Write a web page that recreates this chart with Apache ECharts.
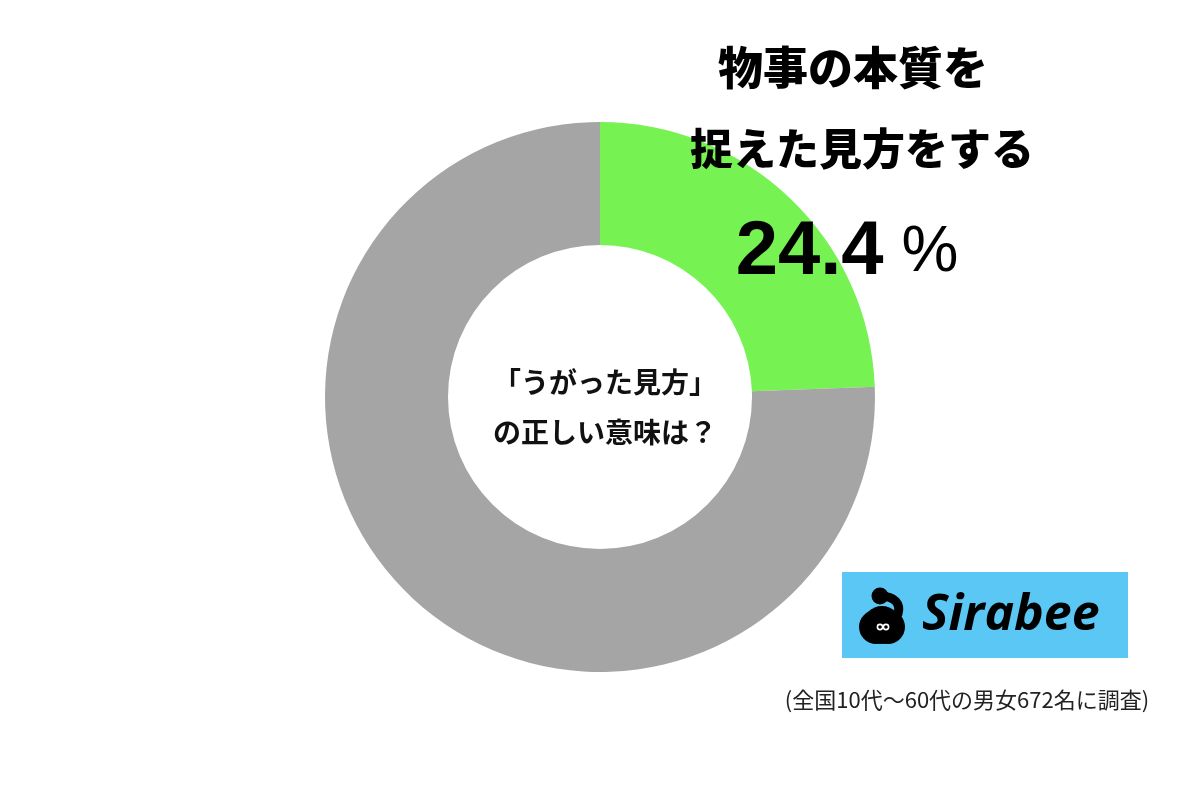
<!DOCTYPE html>
<html>
<head>
<meta charset="utf-8">
<script src="https://cdn.jsdelivr.net/npm/echarts@6/dist/echarts.min.js"></script>
<style>
html,body{margin:0;padding:0;background:#fff;}
#main{width:1200px;height:800px;}
</style>
</head>
<body>
<div id="main"></div>
<script>
// ---- data ----
const categories = ['物事の本質を捉えた見方をする', 'その他'];
const values = [24.4, 75.6];
const colors = ['#76F352', '#A5A5A5'];
const highlightTitleLines = ['物事の本質を', '捉えた見方をする'];
const centerLines = ['「うがった見方」', 'の正しい意味は？'];
const footnote = '(全国10代～60代の男女672名に調査)';
const brand = 'Sirabee';

const chart = echarts.init(document.getElementById('main'), null, {renderer: 'canvas'});
const jp = '"Noto Sans CJK JP", "Noto Sans", sans-serif';

const option = {
  backgroundColor: '#ffffff',
  animation: false,
  title: [
    {
      text: highlightTitleLines[0],
      left: 848, top: 40, textAlign: 'center',
      textStyle: {fontFamily: jp, fontWeight: 900, fontSize: 45, color: '#000'}
    },
    {
      text: highlightTitleLines[1],
      left: 857, top: 122, textAlign: 'center',
      textStyle: {fontFamily: jp, fontWeight: 900, fontSize: 43, color: '#000'}
    },
    {
      text: '{n|' + values[0].toFixed(1) + '}{p| %}',
      left: 842, top: 210, textAlign: 'center',
      textStyle: {
        rich: {
          n: {fontFamily: '"Liberation Sans", Arial, sans-serif', fontWeight: 'bold', fontSize: 76, color: '#000'},
          p: {fontFamily: '"Liberation Sans", Arial, sans-serif', fontWeight: 'normal', fontSize: 64, color: '#000'}
        }
      }
    },
    {
      text: centerLines.join('\n'),
      left: 600, top: 352, textAlign: 'center',
      textStyle: {fontFamily: jp, fontWeight: 'bold', fontSize: 28, lineHeight: 50, color: '#111'}
    },
    {
      text: footnote,
      left: 962, top: 684, textAlign: 'center',
      textStyle: {fontFamily: jp, fontWeight: 'normal', fontSize: 22, color: '#222'}
    }
  ],
  series: [{
    type: 'pie',
    center: [600, 397],
    radius: [152, 275],
    startAngle: 90,
    clockwise: true,
    silent: true,
    label: {show: false},
    labelLine: {show: false},
    itemStyle: {borderWidth: 0},
    data: categories.map((c, i) => ({name: c, value: values[i], itemStyle: {color: colors[i]}}))
  }],
  graphic: [
    {type: 'rect', z: 1, shape: {x: 842, y: 572, width: 286, height: 86}, style: {fill: '#5BC7F4'}},
    // logo mark: body
    {type: 'circle', z: 2, shape: {cx: 882, cy: 625, r: 19}, style: {fill: '#000'}},
    {type: 'circle', z: 2, shape: {cx: 876, cy: 627, r: 17}, style: {fill: '#000'}},
    {type: 'circle', z: 2, shape: {cx: 888, cy: 627, r: 17}, style: {fill: '#000'}},
    // neck
    {type: 'bezierCurve', z: 2, shape: {x1: 880, y1: 596, cpx1: 895, cpy1: 596, cpx2: 901, cpy2: 604, x2: 898, y2: 614},
      style: {fill: null, stroke: '#000', lineWidth: 9, lineCap: 'round'}},
    // head
    {type: 'circle', z: 2, shape: {cx: 880, cy: 596, r: 8.5}, style: {fill: '#000'}},
    // eyes
    {type: 'circle', z: 3, shape: {cx: 880, cy: 627, r: 2.6}, style: {fill: '#000', stroke: '#fff', lineWidth: 1.6}},
    {type: 'circle', z: 3, shape: {cx: 886, cy: 627, r: 2.6}, style: {fill: '#000', stroke: '#fff', lineWidth: 1.6}},
    {type: 'text', z: 3, left: 922, top: 591,
      style: {text: brand, font: 'italic bold 50px "Open Sans", Lato, sans-serif', fill: '#000'}}
  ]
};
chart.setOption(option);
</script>
</body>
</html>
